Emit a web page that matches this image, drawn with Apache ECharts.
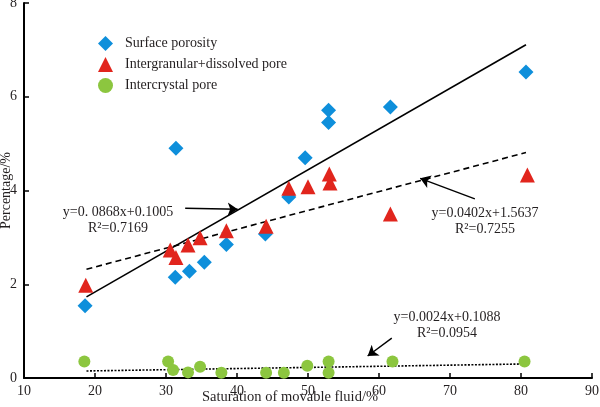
<!DOCTYPE html>
<html lang="en">
<head>
  <meta charset="UTF-8" />
  <title>Porosity vs movable fluid saturation</title>
  <script src="https://cdn.jsdelivr.net/npm/echarts@6/dist/echarts.min.js"></script>
  <style>
    html, body { margin: 0; padding: 0; background: #fff; }
    #chart { width: 600px; height: 407px; }
  </style>
</head>
<body>
  <div id="chart"></div>
  <script>
    // values: [saturation %, percentage %]
    const surfacePorosity = [
      [18.6, 1.54], [31.3, 2.15], [31.4, 4.90], [33.3, 2.28], [35.4, 2.47],
      [38.5, 2.85], [44.0, 3.07], [47.3, 3.86], [49.6, 4.70], [52.9, 5.45],
      [52.9, 5.71], [61.6, 5.78], [80.7, 6.53]
    ];
    const intergranularPore = [
      [18.7, 1.98], [30.6, 2.73], [31.4, 2.57], [33.1, 2.84], [34.8, 2.99],
      [38.5, 3.14], [44.1, 3.24], [47.3, 4.05], [50.0, 4.08], [53.0, 4.35],
      [53.1, 4.16], [61.6, 3.50], [80.9, 4.33]
    ];
    const intercrystalPore = [
      [18.5, 0.35], [30.3, 0.35], [31.0, 0.17], [33.1, 0.12], [34.8, 0.24],
      [37.8, 0.11], [44.1, 0.11], [46.6, 0.11], [49.9, 0.26], [52.9, 0.35],
      [52.9, 0.11], [61.9, 0.35], [80.5, 0.35]
    ];

    // fitted trend line end points
    const surfaceFit = [[18.8, 1.73], [80.7, 7.11]];
    const intergranularFit = [[18.8, 2.32], [80.7, 4.81]];
    const intercrystalFit = [[18.8, 0.15], [80.7, 0.30]];

    // annotation arrows: [from, to]
    const arrows = [
      [[32.7, 3.62], [40.1, 3.60]],
      [[73.5, 3.82], [65.8, 4.26]],
      [[61.8, 0.85], [58.4, 0.47]]
    ];

    const seriesNames = ['Surface porosity', 'Intergranular+dissolved pore', 'Intercrystal pore'];
    const xTicks = [10, 20, 30, 40, 50, 60, 70, 80, 90];
    const yTicks = [0, 2, 4, 6, 8];

    const serif = "'Liberation Serif', 'DejaVu Serif', serif";
    const txt = '#231f20';

    const chart = echarts.init(document.getElementById('chart'));

    function fitLine(data, type) {
      return {
        type: 'line',
        data: data,
        symbol: 'none',
        silent: true,
        z: 3,
        lineStyle: { color: '#000', width: 1.6, type: type }
      };
    }

    const eqText = (x, y, lines) => ({
      type: 'text',
      x: x,
      y: y,
      style: {
        text: lines.join('\n'),
        font: '14px ' + serif,
        fill: txt,
        align: 'center',
        verticalAlign: 'top',
        lineHeight: 16
      }
    });

    const axisText = { fontFamily: serif, fontSize: 14, color: txt };

    chart.setOption({
      animation: false,
      grid: { left: 24, right: 8, top: 3, bottom: 29, outerBoundsMode: 'none', containLabel: false },
      legend: {
        data: [
          { name: seriesNames[0], icon: 'diamond' },
          { name: seriesNames[1], icon: 'triangle' },
          { name: seriesNames[2], icon: 'circle' }
        ],
        orient: 'vertical',
        left: 93,
        top: 31,
        itemWidth: 15,
        itemHeight: 15,
        itemGap: 6,
        textStyle: { fontFamily: serif, fontSize: 14, color: txt, padding: [0, 0, 0, 7] }
      },
      xAxis: {
        type: 'value',
        min: xTicks[0],
        max: xTicks[xTicks.length - 1],
        interval: 10,
        name: 'Saturation of movable fluid/%',
        nameLocation: 'middle',
        nameGap: 12,
        nameMoveOverlap: false,
        nameTextStyle: Object.assign({ padding: [0, 36, 0, 0] }, axisText, { fontSize: 14.5 }),
        axisLine: { onZero: false, lineStyle: { color: '#000', width: 2 } },
        axisTick: { inside: true, length: 5, lineStyle: { color: '#000', width: 1.5 } },
        axisLabel: Object.assign({ margin: 6 }, axisText),
        splitLine: { show: false }
      },
      yAxis: {
        type: 'value',
        min: yTicks[0],
        max: yTicks[yTicks.length - 1],
        interval: 2,
        name: 'Percentage/%',
        nameLocation: 'middle',
        nameGap: 11,
        nameMoveOverlap: false,
        nameTextStyle: axisText,
        axisLine: { onZero: false, lineStyle: { color: '#000', width: 2 } },
        axisTick: { inside: true, length: 5, lineStyle: { color: '#000', width: 1.5 } },
        axisLabel: Object.assign({ margin: 7 }, axisText),
        splitLine: { show: false }
      },
      series: [
        fitLine(surfaceFit, 'solid'),
        fitLine(intergranularFit, [6, 4]),
        fitLine(intercrystalFit, [2, 1.5]),
        {
          name: seriesNames[0],
          type: 'scatter',
          data: surfacePorosity,
          symbol: 'diamond',
          symbolSize: 15,
          z: 4,
          itemStyle: { color: '#0e8fdb', opacity: 1 }
        },
        {
          name: seriesNames[1],
          type: 'scatter',
          data: intergranularPore,
          symbol: 'triangle',
          symbolSize: 15,
          z: 5,
          itemStyle: { color: '#e1251d', opacity: 1 }
        },
        {
          name: seriesNames[2],
          type: 'scatter',
          data: intercrystalPore,
          symbol: 'circle',
          symbolSize: 12,
          z: 4,
          itemStyle: { color: '#8cc63f', opacity: 1 }
        },
        {
          type: 'lines',
          coordinateSystem: 'cartesian2d',
          silent: true,
          z: 6,
          symbol: ['none', 'arrow'],
          symbolSize: 10,
          lineStyle: { color: '#000', width: 1.4, opacity: 1 },
          data: arrows.map(a => ({ coords: a }))
        }
      ],
      graphic: [
        eqText(118, 204, ['y=0. 0868x+0.1005', 'R\u00B2=0.7169']),
        eqText(485, 205, ['y=0.0402x+1.5637', 'R\u00B2=0.7255']),
        eqText(447, 309, ['y=0.0024x+0.1088', 'R\u00B2=0.0954'])
      ]
    });
  </script>
</body>
</html>
